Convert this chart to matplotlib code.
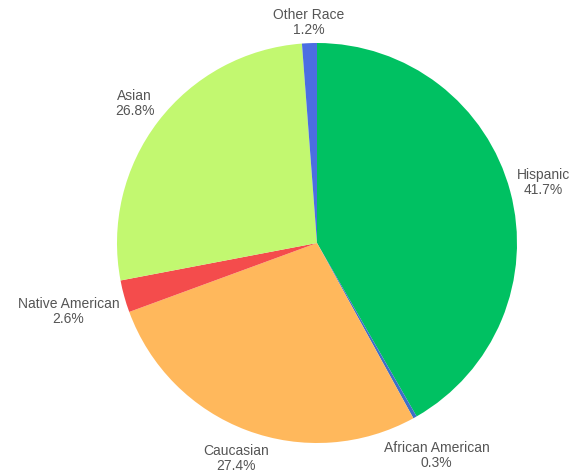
import numpy as np
import matplotlib
matplotlib.use('Agg')
import matplotlib.pyplot as plt

labels = ['Hispanic', 'African American', 'Caucasian', 'Native American', 'Asian', 'Other Race']
shares = [41.7, 0.3, 27.4, 2.6, 26.8, 1.2]
colors = ['#00c162', '#3f6fc8', '#ffb85c', '#f44c4c', '#c2f870', '#4b6ee2']

plt.rcParams['font.family'] = ['Liberation Sans', 'DejaVu Sans']

W, H = 575, 474
fig = plt.figure(figsize=(W / 100, H / 100), dpi=100)
# pie centre at (317, 243) px, radius 200 px
cx, cy, R = 317, 243, 200
ax = fig.add_axes([(cx - R) / W, (H - cy - R) / H, 2 * R / W, 2 * R / H])

wedges, _ = ax.pie(shares, colors=colors, startangle=90, counterclock=False,
                   radius=1, wedgeprops=dict(linewidth=0))
ax.set_xlim(-1, 1)
ax.set_ylim(-1, 1)
ax.set_aspect('equal')
ax.axis('off')

renderer = fig.canvas.get_renderer()
gap = 5  # px between pie edge and label box
for w, lab, val in zip(wedges, labels, shares):
    ang = np.deg2rad((w.theta1 + w.theta2) / 2)
    t = ax.text(0, 0, f'{lab}\n{val}%', ha='center', va='center',
                fontsize=10, color='#555555', multialignment='center',
                linespacing=1.12, clip_on=False)
    bb = t.get_window_extent(renderer)
    d = R + gap + abs(np.cos(ang)) * bb.width / 2 + abs(np.sin(ang)) * bb.height / 2
    t.set_position((d / R * np.cos(ang), d / R * np.sin(ang)))

fig.savefig('out.png', dpi=100)
